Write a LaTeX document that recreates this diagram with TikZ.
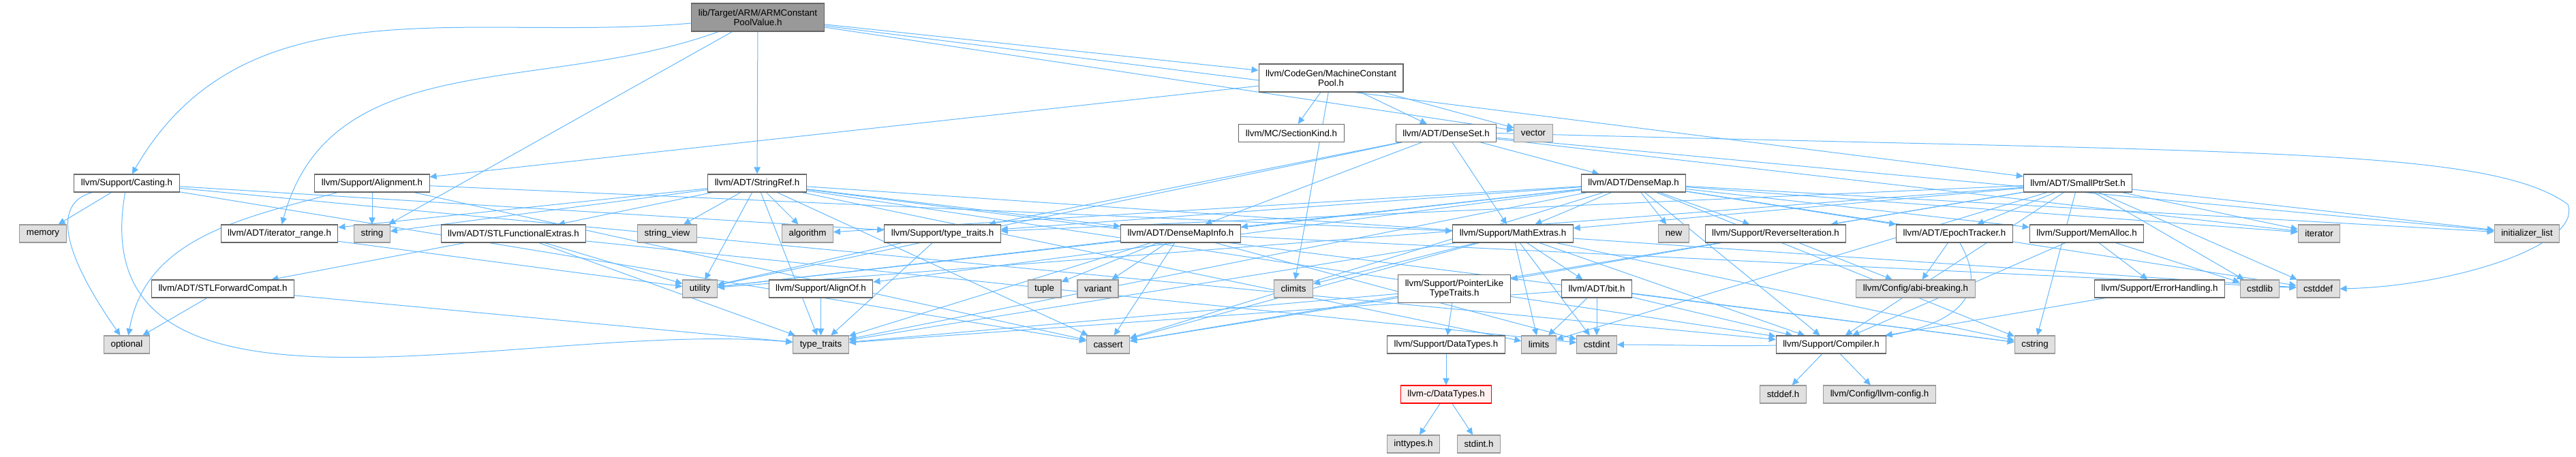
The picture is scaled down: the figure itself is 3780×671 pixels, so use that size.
\documentclass[tikz,border=0pt]{standalone}
\usepackage{fontspec}
\setmainfont{Liberation Sans}
\usepackage{tikz}
\usetikzlibrary{arrows.meta}

\definecolor{colorEdge}{HTML}{63B8FF}
\definecolor{colorLine}{HTML}{666666}
\definecolor{colorSys}{HTML}{E0E0E0}
\definecolor{colorSysLine}{HTML}{999999}
\definecolor{colorRoot}{HTML}{999999}
\definecolor{colorMiss}{HTML}{FF0000}
\definecolor{colorMissFill}{HTML}{FFF0F0}

\pgfdeclarelayer{wires}
\pgfsetlayers{wires,main}

\tikzset{
  file/.style={draw=colorLine, fill=white, line width=0.8pt, inner xsep=7.5pt, inner ysep=0pt,
    minimum height=19.5pt, align=center, font=\fontsize{10pt}{10.7pt}\selectfont},
  tall/.style={minimum height=30.75pt},
  sysfile/.style={file, draw=colorSysLine, fill=colorSys},
  rootfile/.style={file, fill=colorRoot},
  missfile/.style={file, draw=colorMiss, fill=colorMissFill},
  dep/.style={draw=colorEdge, line width=0.75pt, -{Triangle[length=7.5pt,width=7pt]}},
}

\begin{document}
\begin{tikzpicture}[x=0.75pt, y=-0.75pt]

    \useasboundingbox (0,0) rectangle (3780,671);

    % Fichier de depart
    \node[rootfile, tall] (root) at (1112,25.5) {lib/Target/ARM/ARMConstant\\PoolValue.h};

    % Niveau 1 et 2
    \node[file, tall] (mcp) at (1953,114.5) {llvm/CodeGen/MachineConstant\\Pool.h};
    \node[file] (sectionkind) at (1895,195.5) {llvm/MC/SectionKind.h};
    \node[file] (denseset) at (2122,195.5) {llvm/ADT/DenseSet.h};
    \node[sysfile] (vector) at (2250,195.5) {vector};

    % Niveau 3
    \node[file] (casting) at (186,269) {llvm/Support/Casting.h};
    \node[file] (alignment) at (546,269) {llvm/Support/Alignment.h};
    \node[file] (stringref) at (1111,269) {llvm/ADT/StringRef.h};
    \node[file] (densemap) at (2397,269) {llvm/ADT/DenseMap.h};
    \node[file] (smallptrset) at (3049,269) {llvm/ADT/SmallPtrSet.h};

    % Niveau 4
    \node[sysfile] (memory) at (63,343) {memory};
    \node[file] (iterrange) at (410,343) {llvm/ADT/iterator\_range.h};
    \node[sysfile] (string) at (546,343) {string};
    \node[file] (stlfunc) at (753.5,343) {llvm/ADT/STLFunctionalExtras.h};
    \node[sysfile] (stringview) at (979,343) {string\_view};
    \node[sysfile] (algorithm) at (1185,343) {algorithm};
    \node[file] (suptraits) at (1383,343) {llvm/Support/type\_traits.h};
    \node[file] (densemapinfo) at (1732.5,343) {llvm/ADT/DenseMapInfo.h};
    \node[file] (mathextras) at (2220,343) {llvm/Support/MathExtras.h};
    \node[sysfile] (new) at (2456,343) {new};
    \node[file] (reverseit) at (2605.5,343) {llvm/Support/ReverseIteration.h};
    \node[file] (epoch) at (2868,343) {llvm/ADT/EpochTracker.h};
    \node[file] (memalloc) at (3062,343) {llvm/Support/MemAlloc.h};
    \node[sysfile] (iterator) at (3403,343) {iterator};
    \node[sysfile] (initlist) at (3708,343) {initializer\_list};

    % Niveau 5
    \node[file] (stlfwd) at (327,424) {llvm/ADT/STLForwardCompat.h};
    \node[sysfile] (utility) at (1027,424) {utility};
    \node[file] (alignof) at (1204.5,424) {llvm/Support/AlignOf.h};
    \node[sysfile] (tuple) at (1532.5,424) {tuple};
    \node[sysfile] (variant) at (1611,424) {variant};
    \node[sysfile] (climits) at (1898,424) {climits};
    \node[file, tall] (pointerlike) at (2134,424) {llvm/Support/PointerLike\\TypeTraits.h};
    \node[file] (bit) at (2343,424) {llvm/ADT/bit.h};
    \node[sysfile] (abibreaking) at (2811,424) {llvm/Config/abi-breaking.h};
    \node[file] (errorhandling) at (3169,424) {llvm/Support/ErrorHandling.h};
    \node[sysfile] (cstdlib) at (3316,424) {cstdlib};
    \node[sysfile] (cstddef) at (3401.5,424) {cstddef};

    % Niveau 6
    \node[sysfile] (optional) at (186,506) {optional};
    \node[sysfile] (typetraits) at (1204.5,506) {type\_traits};
    \node[sysfile] (cassert) at (1626,506) {cassert};
    \node[file] (datatypes) at (2122,506) {llvm/Support/DataTypes.h};
    \node[sysfile] (limits) at (2258,506) {limits};
    \node[sysfile] (cstdint) at (2343,506) {cstdint};
    \node[file] (compiler) at (2687,506) {llvm/Support/Compiler.h};
    \node[sysfile] (cstring) at (2986,506) {cstring};

    % Niveaux 7 et 8
    \node[missfile] (cdatatypes) at (2122,579) {llvm-c/DataTypes.h};
    \node[sysfile] (stddef) at (2616.5,579) {stddef.h};
    \node[sysfile] (llvmconfig) at (2758,579) {llvm/Config/llvm-config.h};
    \node[sysfile] (inttypes) at (2074,652) {inttypes.h};
    \node[sysfile] (stdint) at (2170,652) {stdint.h};

    % point de passage de la grande boucle a droite
    \coordinate (loopright) at (3768,300);

    % Fleches d'inclusion
    \begin{pgfonlayer}{wires}
    \draw[dep] (root) to[out=185,in=60] (casting);
    \draw[dep] (root) to[out=200,in=75] (iterrange);
    \foreach \t in {string,stringref,mcp,vector,smallptrset}
        \draw[dep] (root) -- (\t);
    \foreach \t in {sectionkind,denseset,vector,climits,alignment}
        \draw[dep] (mcp) -- (\t);
    \foreach \t in {densemap,densemapinfo,mathextras,suptraits,initlist,iterator,utility}
        \draw[dep] (denseset) -- (\t);
    \draw[dep] (denseset.east) .. controls (3300,225) and (3650,215) .. (loopright)
        .. controls (3790,360) and (3600,420) .. (cstddef.east);
    \foreach \t in {densemapinfo,epoch,alignof,compiler,mathextras,memalloc,reverseit,suptraits,
                    algorithm,cassert,cstddef,cstring,initlist,iterator,new,typetraits,utility}
        \draw[dep] (densemap) -- (\t);
    \foreach \t in {cassert,cstddef,cstdint,tuple,typetraits,utility,variant}
        \draw[dep] (densemapinfo) -- (\t);
    \foreach \t in {densemapinfo,stlfunc,iterrange,compiler,algorithm,cassert,cstddef,cstring,
                    limits,string,stringview,typetraits,utility}
        \draw[dep] (stringref) -- (\t);
    \foreach \t in {stlfwd,cstdint,typetraits,utility}
        \draw[dep] (stlfunc) -- (\t);
    \foreach \t in {optional,typetraits}
        \draw[dep] (stlfwd) -- (\t);
    \draw[dep] (iterrange) -- (utility);
    \draw[dep] (casting) to[out=195,in=125] (optional);
    \draw[dep] (casting) to[out=-100,in=175] (typetraits);
    \foreach \t in {compiler,suptraits,cassert,memory}
        \draw[dep] (casting) -- (\t);
    \draw[dep] (alignment) to[out=195,in=80] (optional);
    \foreach \t in {mathextras,cassert,string}
        \draw[dep] (alignment) -- (\t);
    \foreach \t in {typetraits,utility}
        \draw[dep] (suptraits) -- (\t);
    \foreach \t in {bit,compiler,cassert,climits,cstdint,cstring,limits,typetraits}
        \draw[dep] (mathextras) -- (\t);
    \foreach \t in {compiler,cstring,cstdint,limits,typetraits}
        \draw[dep] (bit) -- (\t);
    \foreach \t in {datatypes,cassert,typetraits}
        \draw[dep] (pointerlike) -- (\t);
    \draw[dep] (datatypes) -- (cdatatypes);
    \draw[dep] (cdatatypes) -- (inttypes);
    \draw[dep] (cdatatypes) -- (stdint);
    \draw[dep] (compiler) -- (stddef);
    \draw[dep] (compiler) -- (llvmconfig);
    \draw[dep] (reverseit) -- (abibreaking);
    \draw[dep] (reverseit) -- (pointerlike);
    \draw[dep] (epoch) -- (abibreaking);
    \draw[dep] (epoch) to[out=-60,in=0] (cstdint);
    \foreach \t in {compiler,errorhandling,cstdlib}
        \draw[dep] (memalloc) -- (\t);
    \draw[dep] (errorhandling) -- (compiler);
    \draw[dep] (alignof) -- (typetraits);
    \foreach \t in {epoch,compiler,mathextras,reverseit,suptraits,cassert,cstddef,cstdlib,
                    cstring,initlist,iterator,limits,utility}
        \draw[dep] (smallptrset) -- (\t);
    \end{pgfonlayer}

\end{tikzpicture}
\end{document}
